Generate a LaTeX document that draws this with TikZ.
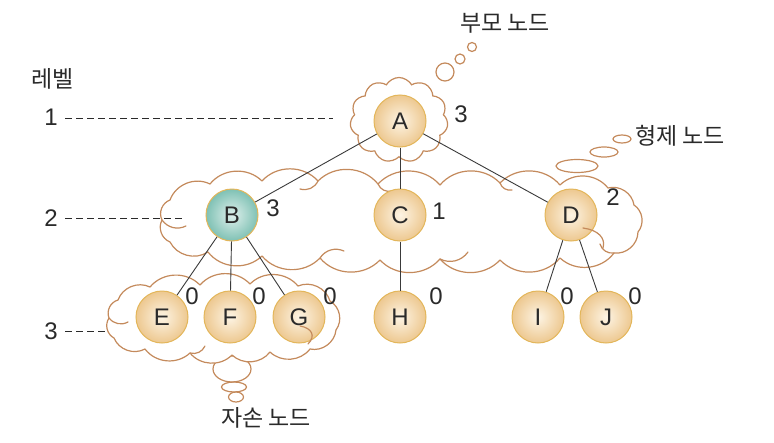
\documentclass[tikz,border=0pt]{standalone}
\usepackage{fontspec}
\setmainfont{Liberation Sans}
\newfontfamily\kr{Noto Sans CJK KR}
\usetikzlibrary{shapes.symbols}
\definecolor{cloudc}{HTML}{C48A5C}
\definecolor{nodein}{HTML}{FDF4E4}
\definecolor{nodeout}{HTML}{EDC890}
\definecolor{nodeborder}{HTML}{E3B65A}
\definecolor{tealin}{HTML}{DFF0EC}
\definecolor{tealout}{HTML}{7FC1B4}
\definecolor{edgec}{HTML}{3A3A3A}
\definecolor{txt}{HTML}{2A2A2A}
\begin{document}
\begin{tikzpicture}[x=1pt,y=-1pt,
 tnode/.style={circle, minimum size=52pt, inner sep=0pt, draw=nodeborder, line width=1pt, shading=radial, inner color=nodein, outer color=nodeout, font=\fontsize{24}{26}\selectfont, text=txt},
 tealnode/.style={tnode, inner color=tealin, outer color=tealout},
 deg/.style={font=\fontsize{24}{26}\selectfont, text=txt, inner sep=0pt},
 krtext/.style={font=\kr\fontsize{23}{25}\selectfont, text=txt, inner sep=0pt},
 cloudbox/.style={cloud, draw=cloudc, fill=white, line width=1.2pt, inner sep=0pt},
 cloudpath/.style={draw=cloudc, fill=white, line width=1.2pt, line join=round},
 puff/.style={bend left=48},
 bubble/.style={draw=cloudc, line width=1.2pt},
 curl/.style={draw=cloudc, line width=1.2pt, line cap=round},
 edge/.style={draw=edgec, line width=0.9pt},
 levelline/.style={draw=txt, line width=1pt, dash pattern=on 7pt off 4pt}]
\useasboundingbox (0,0) rectangle (774,442);
% thought bubbles
\draw[bubble] (445,72) circle[radius=9];
\draw[bubble] (460,59) circle[radius=5];
\draw[bubble] (472,47) circle[radius=4.5];
\draw[bubble] (577,166) ellipse[x radius=21, y radius=6.5];
\draw[bubble] (604,152) ellipse[x radius=14, y radius=5];
\draw[bubble] (622,139) ellipse[x radius=9, y radius=4];
\draw[bubble] (232,369) ellipse[x radius=19, y radius=13];
\draw[bubble] (234,387) ellipse[x radius=12.5, y radius=5];
\draw[bubble] (236,397) ellipse[x radius=7.5, y radius=5];
% clouds
\node[cloudbox, cloud puffs=11, cloud puff arc=120, aspect=1.15, minimum width=98pt, minimum height=85pt] (ca) at (399,120) {};
% middle cloud
\path[cloudpath] (170,200) to[puff] (210,184) to[puff] (262,181) to[puff] (318,181)
  to[puff] (378,184) to[puff] (440,185) to[puff] (500,183) to[puff] (560,185)
  to[puff] (608,188) to[puff] (634,205) to[puff] (638,232) to[puff] (614,253)
  to[puff] (560,258) to[puff] (500,260) to[puff] (440,259) to[puff] (380,260)
  to[puff] (320,258) to[puff] (262,256) to[puff] (208,252) to[puff] (170,242)
  to[puff] (162,220) to[puff] cycle;
% bottom cloud
\path[cloudpath] (118,300) to[puff] (150,287) to[puff] (200,285) to[puff] (250,284)
  to[puff] (298,286) to[puff] (330,301) to[puff] (336,330) to[puff] (310,349)
  to[puff] (270,352) to[puff] (232,355) to[puff] (190,353) to[puff] (145,349)
  to[puff] (114,338) to[puff] (109,318) to[puff] cycle;
% interior curls
\draw[curl] (162,220) to[bend right=40] (186,226);
\draw[curl] (378,184) to[bend right=40] (392,191);
\draw[curl] (318,181) to[bend left=40] (300,189);
\draw[curl] (500,183) to[bend right=40] (512,190);
\draw[curl] (320,258) to[bend left=40] (344,251);
\draw[curl] (440,259) to[bend right=40] (468,252);
\draw[curl] (614,253) to[bend left=40] (600,244);
\draw[curl] (109,318) to[bend right=40] (128,322);
\draw[curl] (190,353) to[bend right=40] (205,346);
% level labels
\node[krtext] (lev) at (53,79) {레벨};
\node[deg] (l1) at (51,117) {1};
\node[deg] (l2) at (51,218) {2};
\node[deg] (l3) at (51,331) {3};
\coordinate (l1e) at (333,118);
\coordinate (l2e) at (185,218);
\coordinate (l3e) at (105,331);
\draw[levelline] (65,118) -- (l1e);
\draw[levelline] (65,218) -- (l2e);
\draw[levelline] (65,331) -- (l3e);
% tree nodes
\node[tnode] (A) at (400,121) {A};
\node[tealnode] (B) at (232,215) {B};
\node[tnode] (C) at (400,215) {C};
\node[tnode] (D) at (571,215) {D};
\node[tnode] (E) at (162,317) {E};
\node[tnode] (F) at (230,317) {F};
\node[tnode] (G) at (299,317) {G};
\node[tnode] (H) at (400,317) {H};
\node[tnode] (I) at (538,317) {I};
\node[tnode] (J) at (606,317) {J};
\draw[edge] (A) -- (B);
\draw[edge] (A) -- (C);
\draw[edge] (A) -- (D);
\draw[edge] (B) -- (E);
\draw[edge] (B) -- (F);
\draw[edge] (B) -- (G);
\draw[edge] (C) -- (H);
\draw[edge] (D) -- (I);
\draw[edge] (D) -- (J);
% curls over nodes
\draw[curl] (583,228) .. controls (598,230) and (606,238) .. (603,248);
\draw[curl] (300,326) .. controls (312,328) and (316,336) .. (308,344);
% degrees
\node[deg] (dA) at (461,114) {3};
\node[deg] (dB) at (273,208) {3};
\node[deg] (dC) at (439,211) {1};
\node[deg] (dD) at (613,197) {2};
\node[deg] (dE) at (192,296) {0};
\node[deg] (dF) at (259,296) {0};
\node[deg] (dG) at (330,296) {0};
\node[deg] (dH) at (436,296) {0};
\node[deg] (dI) at (567,296) {0};
\node[deg] (dJ) at (635,296) {0};
% captions
\node[krtext] (tp) at (505,23) {부모 노드};
\node[krtext] (ts) at (680,136) {형제 노드};
\node[krtext] (td) at (266,418) {자손 노드};
\end{tikzpicture}
\end{document}
